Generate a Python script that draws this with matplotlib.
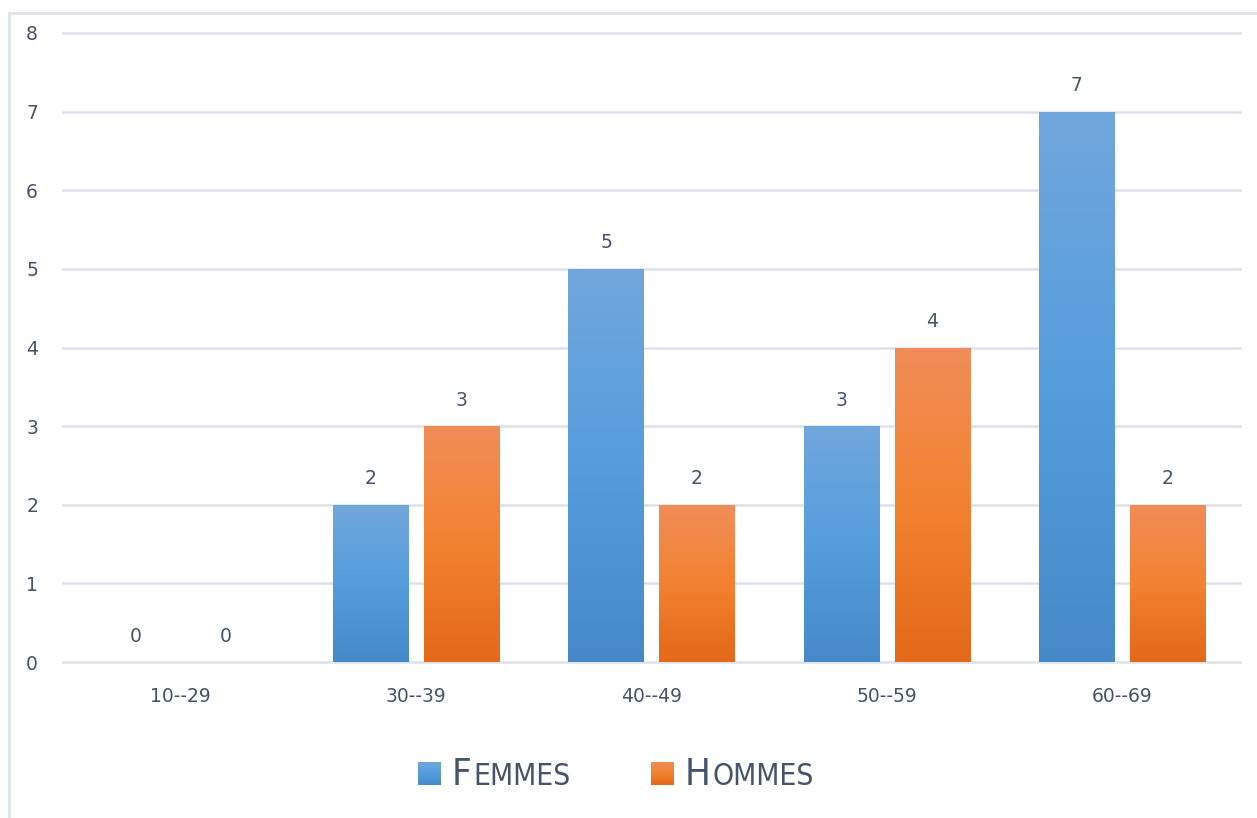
import numpy as np
import matplotlib.pyplot as plt
from matplotlib.colors import LinearSegmentedColormap
from matplotlib.patches import Rectangle

# data
categories = ['10--29', '30--39', '40--49', '50--59', '60--69']
femmes = [0, 2, 5, 3, 7]
hommes = [0, 3, 2, 4, 2]

text_col = '#44546a'
grid_col = '#dde2ea'

blue_cmap = LinearSegmentedColormap.from_list('b', ['#4589c8', '#559ddd', '#71a7dc'])
orange_cmap = LinearSegmentedColormap.from_list('o', ['#e46818', '#f38230', '#f08d58'])

fig = plt.figure(figsize=(12.57, 8.18), dpi=100)
ax = fig.add_axes([63 / 1257, 156 / 818, 1177 / 1257, 629 / 818])

x = np.arange(len(categories))
w = 0.32
off = 0.193
grad = np.linspace(0, 1, 256).reshape(-1, 1)


def gradient_bars(xs, vals, cmap):
    bars = ax.bar(xs, vals, w, color='none', zorder=3)
    for b in bars:
        if b.get_height() <= 0:
            continue
        x0, y0 = b.get_x(), b.get_y()
        im = ax.imshow(grad, cmap=cmap, aspect='auto', origin='lower',
                       extent=[x0, x0 + b.get_width(), y0, y0 + b.get_height()],
                       zorder=3)
        im.set_clip_path(b)
    for xi, v in zip(xs, vals):
        ax.text(xi, v + 0.33, str(v), ha='center', va='center',
                fontsize=13.5, color=text_col)


gradient_bars(x - off, femmes, blue_cmap)
gradient_bars(x + off, hommes, orange_cmap)

ax.set_xlim(-0.5, len(categories) - 0.5)
ax.set_ylim(0, 8)
ax.set_yticks(range(0, 9))
ax.set_xticks(x)
ax.set_xticklabels(categories)
ax.yaxis.grid(True, color=grid_col, linewidth=1.8, zorder=0)
ax.set_axisbelow(True)
for gl in ax.get_ygridlines():
    gl.set_clip_on(False)
for s in ax.spines.values():
    s.set_visible(False)
ax.tick_params(length=0, labelsize=13.5, labelcolor=text_col)
ax.tick_params(axis='y', pad=18)
ax.tick_params(axis='x', pad=18)

# outer border (only top and left visible in the crop)
fig.add_artist(Rectangle((9 / 1257, -0.1), 1.2, (818 - 13) / 818 + 0.1,
                         transform=fig.transFigure, fill=False,
                         edgecolor=grid_col, linewidth=2))

# legend with small caps labels
leg = [('F', 'EMMES', blue_cmap, 418), ('H', 'OMMES', orange_cmap, 651)]
for big, small, cmap, px in leg:
    lax = fig.add_axes([px / 1257, (818 - 785) / 818, 23 / 1257, 23 / 818])
    lax.imshow(grad, cmap=cmap, aspect='auto', origin='lower')
    lax.axis('off')
    t = fig.text((px + 34) / 1257, (818 - 785) / 818, big, fontsize=27.5,
                 color=text_col, family='DejaVu Sans', fontstretch='condensed',
                 va='baseline')
    fig.canvas.draw()
    bb = t.get_window_extent()
    fig.text(bb.x1 / 1257 + 0.001, (818 - 785) / 818, small, fontsize=21.5,
             color=text_col, family='DejaVu Sans', fontstretch='condensed',
             va='baseline')

fig.savefig('out.png', dpi=100)
